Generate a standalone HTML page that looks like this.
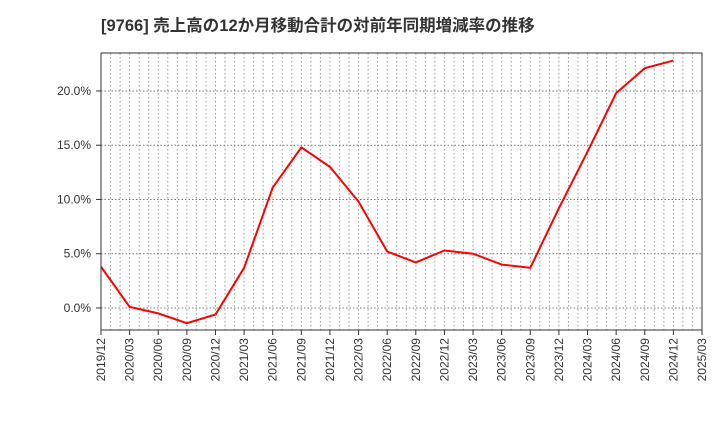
<!DOCTYPE html>
<html><head><meta charset="utf-8"><style>
body{margin:0;background:#fff;}
svg text{font-family:"Liberation Sans","Noto Sans CJK JP",sans-serif;}
</style></head><body>
<svg id="c" width="720" height="440" xmlns="http://www.w3.org/2000/svg">
<text x="101" y="31" font-size="16.5" font-weight="bold" fill="#333">[9766]  売上高の12か月移動合計の対前年同期増減率の推移</text>
</svg>
<script>
const categories=["2019/12","2020/03","2020/06","2020/09","2020/12","2021/03","2021/06","2021/09","2021/12","2022/03","2022/06","2022/09","2022/12","2023/03","2023/06","2023/09","2023/12","2024/03","2024/06","2024/09","2024/12","2025/03"];
const values=[3.8,0.1,-0.5,-1.4,-0.6,3.7,11.1,14.8,13.0,9.8,5.2,4.2,5.3,5.0,4.0,3.7,9.2,14.4,19.8,22.1,22.8];
const yTicks=[0,5,10,15,20];
const yTickLabels=["0.0%","5.0%","10.0%","15.0%","20.0%"];
const L=101,R=702,T=53,B=330,yMin=-2.03,yMax=23.5;
const svg=document.getElementById('c');const NS="http://www.w3.org/2000/svg";
const xs=i=>L+(R-L)*i/(categories.length-1);
const ys=v=>B-(v-yMin)/(yMax-yMin)*(B-T);
function mk(t,a,p){const e=document.createElementNS(NS,t);for(const k in a)e.setAttribute(k,a[k]);(p||svg).appendChild(e);return e;}
const months=(categories.length-1)*3;
for(let m=1;m<months;m++){const x=L+(R-L)*m/months;
const g=mk('line',{x1:x,x2:x,y1:T,y2:B,stroke:'#999','stroke-dasharray':'1.5,2.5','stroke-width':1});

}
yTicks.forEach((v,i)=>{const y=ys(v);
const g=mk('line',{x1:L,x2:R,y1:y,y2:y,stroke:'#777','stroke-dasharray':'1.5,2','stroke-width':1});


const t=mk('text',{x:L-10,y:y+4,'text-anchor':'end','font-size':12,fill:'#333'});t.textContent=yTickLabels[i];


mk('line',{x1:L-5,x2:L,y1:y,y2:y,stroke:'#333'});});
categories.forEach((c,i)=>{const x=xs(i);
mk('line',{x1:x,x2:x,y1:B,y2:B+5,stroke:'#333'});
const t=mk('text',{x:x+4,y:B+8,'text-anchor':'end','font-size':12,fill:'#333',transform:`rotate(-90 ${x+4} ${B+8})`});t.textContent=c;

});
const fr=mk('rect',{x:L,y:T,width:R-L,height:B-T,fill:'none',stroke:'#333','stroke-width':1});


const ln=mk('polyline',{points:values.map((v,i)=>xs(i)+','+ys(v)).join(' '),fill:'none',stroke:'#f00','stroke-width':2});


</script>
</body></html>
